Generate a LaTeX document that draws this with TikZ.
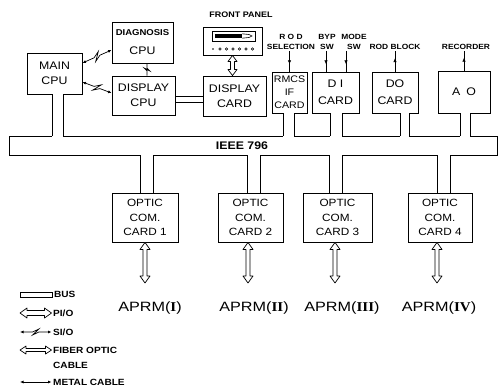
\documentclass[tikz,border=0pt]{standalone}
\usepackage{fontspec}
\setmainfont{Liberation Sans}[FakeStretch=1.12]
\newfontfamily\numfont{Liberation Serif}[FakeStretch=1.12]
\newfontfamily\aprmfont{Liberation Sans}[FakeStretch=1.2]
\usetikzlibrary{arrows.meta, positioning, calc, decorations.markings}
\tikzset{
  box/.style={draw, line width=0.9pt, inner sep=0pt, align=center,
              font=\fontsize{11}{15}\selectfont},
  smalltag/.style={inner sep=1pt, align=center, font=\fontsize{7.5}{10}\selectfont\bfseries},
  legtext/.style={inner sep=1.5pt, anchor=west, font=\fontsize{9}{13}\selectfont\bfseries},
  bigtag/.style={inner sep=1pt, font=\aprmfont\fontsize{13.5}{15}\selectfont},
  pipeline/.style={line width=0.8pt},
  hollow/.style={line width=0.7pt, fill=white, line join=round},
  sio/.style={line width=0.7pt, {Latex[length=3.5pt,width=3pt]}-{Latex[length=3.5pt,width=3pt]}},
  zap/.style={line width=0.8pt},
  metal/.style={line width=0.7pt, {Latex[length=3.5pt,width=3pt]}-{Latex[length=3.5pt,width=3pt]}},
  midarrow/.style={line width=0.7pt, postaction={decorate},
    decoration={markings, mark=at position 0.65 with {\arrow{Latex[length=4pt,width=3.5pt]}}}},
}
% serial link with a zigzag in the middle
\newcommand{\siolink}[4][sio]{%
  \draw[#1] (#2) -- ($(#2)!0.4!(#3)$) -- ($(#2)!0.6!(#3)!#4!90:(#3)$)
    -- ($(#2)!0.4!(#3)!#4!-90:(#3)$) -- ($(#2)!0.6!(#3)$) -- (#3);}
% hollow double arrow: from, to, shaft half width, head half width, head length
\newcommand{\hollowlink}[5]{%
  \draw[hollow] (#1) -- ($(#1)!#5!(#2)!#4!90:(#2)$) -- ($(#1)!#5!(#2)!#3!90:(#2)$)
    -- ($(#2)!#5!(#1)!#3!-90:(#1)$) -- ($(#2)!#5!(#1)!#4!-90:(#1)$) -- (#2)
    -- ($(#2)!#5!(#1)!#4!90:(#1)$) -- ($(#2)!#5!(#1)!#3!90:(#1)$)
    -- ($(#1)!#5!(#2)!#3!-90:(#2)$) -- ($(#1)!#5!(#2)!#4!-90:(#2)$) -- cycle;}

\begin{document}
\begin{tikzpicture}[x=1pt, y=-1pt]
  \useasboundingbox (0,0) rectangle (500,388);

  % processors and cards
  \node[box, minimum width=55pt, minimum height=41pt] (main) at (54.5,73.5) {MAIN\\CPU};
  \node[box, minimum width=61pt, minimum height=41pt] (diag) at (142.5,42.5)
    {{\fontsize{8.5}{10}\selectfont\bfseries DIAGNOSIS}\\[4pt]CPU};
  \node[box, minimum width=63pt, minimum height=39pt] (dcpu) at (143.5,95.5) {DISPLAY\\CPU};
  \node[box, minimum width=63pt, minimum height=40pt] (dcard) at (234.5,96) {DISPLAY\\CARD};
  \node[box, minimum width=35pt, minimum height=41pt, font=\fontsize{9.5}{13}\selectfont] (rmcs) at (289.5,92.5) {RMCS\\IF\\CARD};
  \node[box, minimum width=47pt, minimum height=41pt, font=\fontsize{11}{17}\selectfont] (dicard) at (335.5,92.5) {D I\\CARD};
  \node[box, minimum width=46pt, minimum height=41pt, font=\fontsize{11}{17}\selectfont] (docard) at (395,92.5) {DO\\CARD};
  \node[box, minimum width=52pt, minimum height=42pt] (ao) at (464,92) {A\hspace{6pt}O};

  % front panel
  \node[draw, line width=0.9pt, minimum width=59pt, minimum height=28pt, inner sep=0pt] (fp) at (232.5,41) {};
  \node[smalltag, font=\fontsize{8}{10}\selectfont\bfseries] (fptxt) at (241,15) {FRONT PANEL};
  \draw[line width=0.7pt] (212,31) rectangle (255,41);
  \fill (215,33.8) rectangle (242,38.2);
  \draw[line width=0.6pt] (242,33.8) -- (249,34.5) -- (252,36) -- (249,37.5) -- (242,38.2);
  \fill (213,49) circle (0.8pt);
  \foreach \x in {220,226.5,...,254} \draw[line width=0.5pt] (\x,49) circle (1.3pt);
  \coordinate (fpout) at (fp.south);
  \coordinate (fpin) at (fp.south |- dcard.north);
  \hollowlink{fpout}{fpin}{2pt}{4.5pt}{6pt}

  % signal labels
  \node[smalltag] (rodsel) at (291,42) {R O D\\SELECTION};
  \node[smalltag] (byp) at (327,42) {BYP\\SW};
  \node[smalltag] (mode) at (354,42) {MODE\\SW};
  \node[smalltag] (rodblk) at (395,47) {ROD BLOCK};
  \node[smalltag] (rec) at (466,47) {RECORDER};
  \coordinate (bypin) at (byp.south -| 326,0);
  \coordinate (modein) at (mode.south -| 346,0);
  \draw[midarrow] (rodsel.south -| rmcs.north) -- (rmcs.north);
  \draw[midarrow] (bypin) -- (bypin |- dicard.north);
  \draw[midarrow] (modein) -- (modein |- dicard.north);
  \draw[midarrow] (docard.north) -- (docard.north |- rodblk.south);
  \draw[midarrow] (ao.north) -- (ao.north |- rec.south);

  % serial links
  \coordinate (m1) at (main.east |- 0,63);
  \coordinate (d1) at (diag.west |- 0,50);
  \coordinate (m2) at (main.east |- 0,82);
  \coordinate (d2) at (dcpu.west |- 0,93);
  \coordinate (z1) at (diag.south -| 147,0);
  \coordinate (z2) at (dcpu.north -| 147,0);
  \siolink{m1}{d1}{4pt}
  \siolink{m2}{d2}{4pt}
  \siolink[zap]{z1}{z2}{2.5pt}
  \draw[pipeline] (dcpu.east |- 0,96) -- (dcard.west |- 0,96);
  \draw[pipeline] (dcpu.east |- 0,102) -- (dcard.west |- 0,102);

  % bus
  \node[draw, line width=0.8pt, minimum width=488pt, minimum height=19pt, inner sep=0pt] (bus) at (253,145.5) {};
  \node[font=\fontsize{11}{13}\selectfont\bfseries, inner sep=0pt] (ieee) at (242,145.5) {IEEE 796};
  \foreach \n/\x/\h in {main/57.5/5.5, rmcs/288.5/5.5, dicard/336/6, docard/404.5/4.5, ao/465/5}{
    \coordinate (t\n) at (\n.south -| \x,0);
    \coordinate (u\n) at (t\n |- bus.north);
    \fill[white] ($(t\n)+(-\h,0)$) rectangle ($(u\n)+(\h,1.3)$);
    \draw[pipeline] ($(t\n)+(-\h,0)$) -- ($(u\n)+(-\h,0.8)$);
    \draw[pipeline] ($(t\n)+(\h,0)$) -- ($(u\n)+(\h,0.8)$);
  }

  % optic cards
  \node[box, minimum width=66pt, minimum height=49pt, font=\fontsize{10.5}{14.5}\selectfont] (oc1) at (145,217.5) {OPTIC\\COM.\\CARD 1};
  \node[box, minimum width=65pt, minimum height=49pt, font=\fontsize{10.5}{14.5}\selectfont] (oc2) at (250.5,217.5) {OPTIC\\COM.\\CARD 2};
  \node[box, minimum width=69pt, minimum height=49pt, font=\fontsize{10.5}{14.5}\selectfont] (oc3) at (337.5,217.5) {OPTIC\\COM.\\CARD 3};
  \node[box, minimum width=64pt, minimum height=49pt, font=\fontsize{10.5}{14.5}\selectfont] (oc4) at (440,217.5) {OPTIC\\COM.\\CARD 4};
  \foreach \n/\x in {oc1/146.5, oc2/253.5, oc3/336, oc4/443.5}{
    \coordinate (b\n) at (\n.north -| \x,0);
    \coordinate (v\n) at (b\n |- bus.south);
    \fill[white] ($(b\n)+(-6.5,0)$) rectangle ($(v\n)+(6.5,-1.3)$);
    \draw[pipeline] ($(b\n)+(-6.5,0)$) -- ($(v\n)+(-6.5,-0.8)$);
    \draw[pipeline] ($(b\n)+(6.5,0)$) -- ($(v\n)+(6.5,-0.8)$);
  }

  % remote modules
  \node[bigtag] (aprm1) at (150,308) {APRM({\numfont\bfseries I})};
  \node[bigtag] (aprm2) at (254,308) {APRM({\numfont\bfseries II})};
  \node[bigtag] (aprm3) at (342,308) {APRM({\numfont\bfseries III})};
  \node[bigtag] (aprm4) at (439,308) {APRM({\numfont\bfseries IV})};
  \foreach \i/\x in {1/145, 2/248, 3/335, 4/437}{
    \coordinate (f\i) at (oc\i.south -| \x,0);
    \coordinate (g\i) at (f\i |- 0,283);
    \hollowlink{f\i}{g\i}{2pt}{5pt}{7pt}
  }

  % legend
  \node[draw, line width=0.8pt, minimum width=32pt, minimum height=5pt, inner sep=0pt] (lbus) at (36,294.5) {};
  \node[legtext, right=0pt of lbus] (tbus) {BUS};
  \coordinate (lpio) at (20,313);
  \node[legtext] (tpio) at (51.5,313) {PI/O};
  \hollowlink{lpio}{tpio.west}{2.5pt}{5pt}{7pt}
  \coordinate (lsio) at (20,332);
  \node[legtext] (tsio) at (51.5,332) {SI/O};
  \siolink{lsio}{tsio.west}{3pt}
  \coordinate (lfib) at (20,350);
  \node[legtext] (tfib) at (51.5,350) {FIBER OPTIC};
  \node[legtext] (tcab) at (51.5,365) {CABLE};
  \hollowlink{lfib}{tfib.west}{1.5pt}{4pt}{6pt}
  \coordinate (lmet) at (20,382);
  \node[legtext] (tmet) at (51.5,382) {METAL CABLE};
  \draw[metal] (lmet) -- (tmet.west);
\end{tikzpicture}
\end{document}
